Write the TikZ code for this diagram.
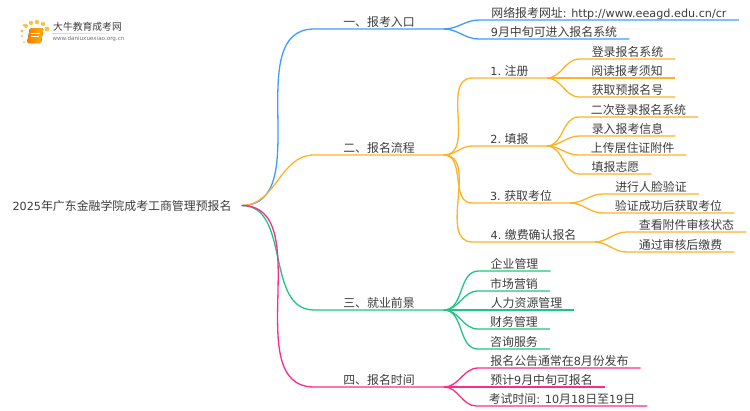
\documentclass[tikz,border=0pt]{standalone}
\usepackage{fontspec}
\usepackage{xcolor}
\setmainfont{Noto Sans CJK SC}
\newfontfamily\latinfont{DejaVu Sans}
\newcommand{\en}[1]{{\latinfont\fontsize{11.2}{14}\selectfont #1}}
\definecolor{lineblue}{HTML}{3D9DFF}
\definecolor{lineorange}{HTML}{FFB224}
\definecolor{linegreen}{HTML}{1FC583}
\definecolor{linepink}{HTML}{FF2A8A}
\definecolor{textgray}{HTML}{3C3C3C}
\definecolor{logodot}{HTML}{F6C24A}
\tikzset{
    basesty/.style={rectangle,anchor=south,inner ysep=1pt,text depth=1pt,text height=10pt,text=textgray,font=\fontsize{11.9}{14}\selectfont},
    rootsty/.style={basesty,anchor=center,inner xsep=10pt},
    headsty/.style={basesty,inner xsep=29pt},
    stepsty/.style={basesty,inner xsep=18pt},
    leafsty/.style={basesty,inner xsep=12pt},
    bluesty/.style={draw=lineblue,line width=1.3pt},
    orangesty/.style={draw=lineorange,line width=1.3pt},
    greensty/.style={draw=linegreen,line width=1.3pt},
    pinksty/.style={draw=linepink,line width=1.3pt},
    linksty/.style={out=0,in=180},
}
\begin{document}
\begin{tikzpicture}[x=1pt,y=-1pt]
  \useasboundingbox (0,0) rectangle (750,410);

  \fill[logodot] (24,25) circle (1.4) (22,31) circle (1.6) (26,26) circle (2) (31,23) circle (2.2)
    (37,22) circle (2.2) (43,24) circle (2.2) (47,29) circle (2.4) (22,36) circle (1.2) (24,42) circle (1);
  \fill[rounded corners=1.5pt,left color=orange!95!red,right color=orange!60!yellow] (30,28) -- (43.5,28) -- (41,43) -- (27,43) -- cycle;
  \draw[white,line width=0.7pt] (31,33) -- (40,33) (31,36) -- (39,36);
  \node[inner sep=0pt,text=textgray,font=\fontsize{9.8}{12}\selectfont] (logoname) at (87.5,27) {大牛教育成考网};
  \node[inner sep=0pt,text=gray!90!black,font=\fontsize{5.6}{7}\selectfont\latinfont] (logourl) at (88.5,38.5) {www.daniuxuexiao.org.cn};
  \shade[left color=gray!35,right color=white] (52,33) rectangle (134,33.7);

  \node[rootsty] (root) at (122,205.5) {\en{2025}年广东金融学院成考工商管理预报名};

  \node[headsty] (entry) at (379,29) {一、报考入口};
  \node[headsty] (flow) at (379,155) {二、报名流程};
  \node[headsty] (career) at (379,310) {三、就业前景};
  \node[headsty] (time) at (379,387) {四、报名时间};

  \node[leafsty] (site) at (609,20) {网络报考网址\en{: http://www.eeagd.edu.cn/cr}};
  \node[leafsty] (open) at (554,39) {\en{9}月中旬可进入报名系统};

  \node[stepsty] (regist) at (509.5,78) {\en{1.} 注册};
  \node[stepsty] (fill) at (509.5,146) {\en{2.} 填报};
  \node[stepsty] (seat) at (521,203) {\en{3.} 获取考位};
  \node[stepsty] (pay) at (533.5,242) {\en{4.} 缴费确认报名};

  \node[leafsty] (login) at (627.5,59) {登录报名系统};
  \node[leafsty] (notice) at (627,78) {阅读报考须知};
  \node[leafsty] (number) at (627.5,97) {获取预报名号};

  \node[leafsty] (relogin) at (638.5,117) {二次登录报名系统};
  \node[leafsty] (input) at (627.5,136) {录入报考信息};
  \node[leafsty] (upload) at (632.5,155) {上传居住证附件};
  \node[leafsty] (wish) at (615.5,174) {填报志愿};

  \node[leafsty] (face) at (651,194) {进行人脸验证};
  \node[leafsty] (verify) at (668.5,213) {验证成功后获取考位};

  \node[leafsty] (check) at (686.5,232) {查看附件审核状态};
  \node[leafsty] (passed) at (680.5,252) {通过审核后缴费};

  \node[leafsty] (manage) at (514.5,271) {企业管理};
  \node[leafsty] (market) at (514,291) {市场营销};
  \node[leafsty] (human) at (526.5,310) {人力资源管理};
  \node[leafsty] (finance) at (514,329) {财务管理};
  \node[leafsty] (consult) at (514,349) {咨询服务};

  \node[leafsty] (announce) at (559.5,368) {报名公告通常在\en{8}月份发布};
  \node[leafsty] (expect) at (541.5,387) {预计\en{9}月中旬可报名};
  \node[leafsty] (exam) at (562,406) {考试时间\en{: 10}月\en{18}日至\en{19}日};

  \draw[bluesty] (root.east) to[linksty] (entry.south west) -- (entry.south east);
  \draw[bluesty] (entry.south east) to[linksty] (site.south west) -- (site.south east);
  \draw[bluesty] (entry.south east) to[linksty] (open.south west) -- (open.south east);

  \draw[orangesty] (root.east) to[linksty] (flow.south west) -- (flow.south east);
  \draw[orangesty] (flow.south east) to[linksty] (regist.south west) -- (regist.south east);
  \draw[orangesty] (flow.south east) to[linksty] (fill.south west) -- (fill.south east);
  \draw[orangesty] (flow.south east) to[linksty] (seat.south west) -- (seat.south east);
  \draw[orangesty] (flow.south east) to[linksty] (pay.south west) -- (pay.south east);
  \draw[orangesty] (regist.south east) to[linksty] (login.south west) -- (login.south east);
  \draw[orangesty] (regist.south east) to[linksty] (notice.south west) -- (notice.south east);
  \draw[orangesty] (regist.south east) to[linksty] (number.south west) -- (number.south east);
  \draw[orangesty] (fill.south east) to[linksty] (relogin.south west) -- (relogin.south east);
  \draw[orangesty] (fill.south east) to[linksty] (input.south west) -- (input.south east);
  \draw[orangesty] (fill.south east) to[linksty] (upload.south west) -- (upload.south east);
  \draw[orangesty] (fill.south east) to[linksty] (wish.south west) -- (wish.south east);
  \draw[orangesty] (seat.south east) to[linksty] (face.south west) -- (face.south east);
  \draw[orangesty] (seat.south east) to[linksty] (verify.south west) -- (verify.south east);
  \draw[orangesty] (pay.south east) to[linksty] (check.south west) -- (check.south east);
  \draw[orangesty] (pay.south east) to[linksty] (passed.south west) -- (passed.south east);

  \draw[greensty] (root.east) to[linksty] (career.south west) -- (career.south east);
  \draw[greensty] (career.south east) to[linksty] (manage.south west) -- (manage.south east);
  \draw[greensty] (career.south east) to[linksty] (market.south west) -- (market.south east);
  \draw[greensty] (career.south east) to[linksty] (human.south west) -- (human.south east);
  \draw[greensty] (career.south east) to[linksty] (finance.south west) -- (finance.south east);
  \draw[greensty] (career.south east) to[linksty] (consult.south west) -- (consult.south east);

  \draw[pinksty] (root.east) to[linksty] (time.south west) -- (time.south east);
  \draw[pinksty] (time.south east) to[linksty] (announce.south west) -- (announce.south east);
  \draw[pinksty] (time.south east) to[linksty] (expect.south west) -- (expect.south east);
  \draw[pinksty] (time.south east) to[linksty] (exam.south west) -- (exam.south east);
\end{tikzpicture}
\end{document}
